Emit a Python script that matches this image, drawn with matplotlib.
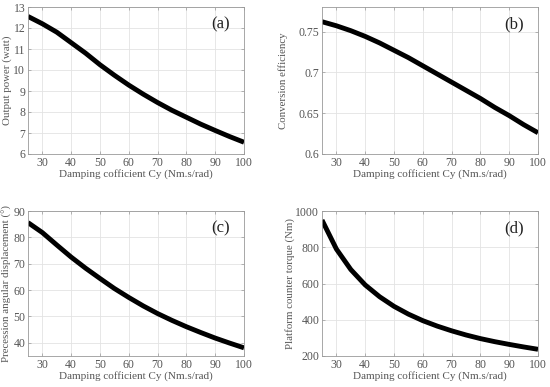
import numpy as np
import matplotlib.pyplot as plt

cy = [25, 30, 35, 40, 45, 50, 55, 60, 65, 70, 75, 80, 85, 90, 95, 100]
power = [12.55, 12.2, 11.8, 11.3, 10.8, 10.25, 9.75, 9.28, 8.85, 8.45,
         8.08, 7.75, 7.42, 7.12, 6.83, 6.56]
efficiency = [0.762, 0.757, 0.751, 0.744, 0.736, 0.727, 0.718, 0.708,
              0.698, 0.688, 0.678, 0.668, 0.657, 0.647, 0.636, 0.626]
precession = [85.6, 81.8, 77.1, 72.5, 68.3, 64.4, 60.6, 57.2, 54.0, 51.1,
              48.5, 46.1, 43.9, 41.8, 39.9, 38.1]
torque = [950, 790, 677, 592, 527, 474, 431, 395, 365, 339, 316, 296,
          279, 264, 250, 237]

plt.rcParams['font.family'] = ['Liberation Serif', 'DejaVu Serif']
grey = '#555555'

panels = [
    (power, 'Output power (watt)', '(a)', (6, 13), [6, 7, 8, 9, 10, 11, 12, 13], None),
    (efficiency, 'Conversion efficiency', '(b)', (0.6, 0.78), [0.6, 0.65, 0.7, 0.75],
     ['0.6', '0.65', '0.7', '0.75']),
    (precession, 'Precession angular displacement (°)', '(c)', (35, 90),
     [40, 50, 60, 70, 80, 90], None),
    (torque, 'Platform counter torque (Nm)', '(d)', (200, 1000),
     [200, 400, 600, 800, 1000], None),
]

# axes boxes in pixels (left, top, right, bottom) and ylabel x in axes coords
W, H = 550.0, 387.0
rects = [
    (28, 7, 244, 154),
    (322, 7, 538, 154),
    (28, 211, 244, 356),
    (322, 211, 538, 356),
]
ylab_x = [-0.097, -0.18, -0.097, -0.148]

fig = plt.figure(figsize=(5.5, 3.87), dpi=100)
for (vals, ylab, tag, ylim, yt, ytl), (x0, y0, x1, y1), lx in zip(panels, rects, ylab_x):
    ax = fig.add_axes([x0 / W, 1 - y1 / H, (x1 - x0) / W, (y1 - y0) / H])
    ax.plot(cy, vals, color='black', lw=3.5, solid_capstyle='butt',
            solid_joinstyle='round')
    ax.set_xlim(25, 100)
    ax.set_ylim(*ylim)
    ax.set_xticks([30, 40, 50, 60, 70, 80, 90, 100])
    ax.set_yticks(yt)
    if ytl:
        ax.set_yticklabels(ytl)
    ax.grid(True, color='#e3e3e3', lw=0.6)
    ax.set_axisbelow(True)
    for s in ax.spines.values():
        s.set_color('#999999')
        s.set_linewidth(0.6)
    ax.tick_params(direction='in', length=2.5, width=0.5, color='#999999',
                   labelsize=8.5, labelcolor=grey, pad=2, top=True, right=True)
    ax.set_xlabel('Damping cofficient Cy (Nm.s/rad)', fontsize=8, color=grey,
                  va='center')
    ax.xaxis.set_label_coords(0.5, -0.136)
    ax.set_ylabel(ylab, fontsize=7.8, color=grey, va='center')
    ax.yaxis.set_label_coords(lx, 0.5)
    ax.text(0.89, 0.88, tag, transform=ax.transAxes, fontsize=12,
            ha='center', va='center', color='#222222')

fig.savefig('out.png', dpi=100)
